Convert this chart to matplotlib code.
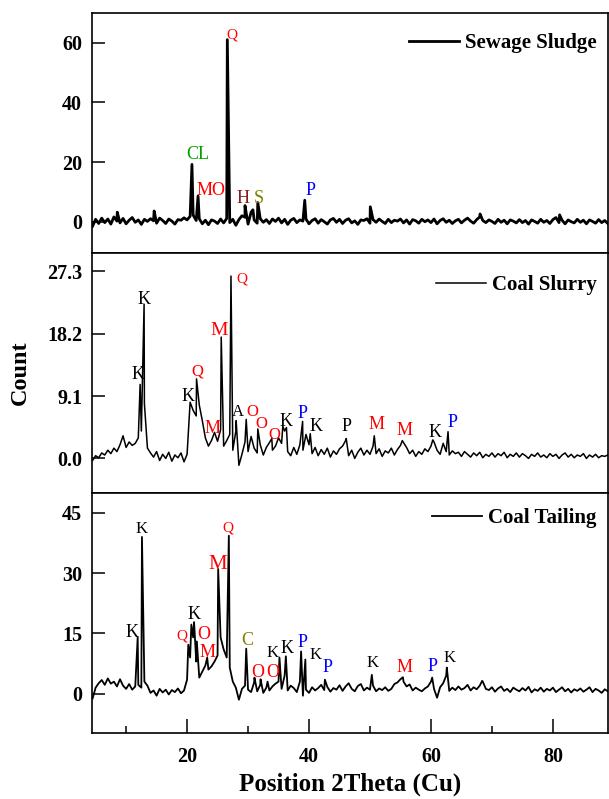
import numpy as np
import matplotlib
matplotlib.use("Agg")
import matplotlib.pyplot as plt
from matplotlib.ticker import MultipleLocator

plt.rcParams["font.family"] = ["Liberation Serif", "DejaVu Serif"]
plt.rcParams["font.weight"] = "bold"

# 2theta grid of the scans (step 0.5 deg), counts read per row of 5 deg
two_theta = np.arange(4.5, 89.01, 0.5)

sludge_counts = [
    -1.5, 0.8, -0.6, 1.2, -0.3, 0.9, -0.8, 1.6, 0.2, -0.4,
    1.1, -0.7, 0.5, 1.4, -0.2, 0.6, -0.9, 0.8, 0.1, 1.0,
    0.3, -0.5, 1.2, 0.4, -0.6, 0.9, 0.2, -0.8, 0.7, 0.5,
    1.3, 0.6, 1.8, 2.2, 0.4, 1.0, -0.7, 0.5, -1.0, 0.6,
    0.2, -0.6, 0.9, -0.4, 1.1, -0.3, 0.8, -1.2, 0.7, 2.0,
    1.5, -0.8, 3.2, 0.6, -0.5, 1.0, -0.2, 0.7, -0.6, 0.9,
    0.1, 1.2, -0.4, 0.8, -0.9, 0.5, 1.1, -0.3, 0.6, 0.2,
    0.9, -0.7, 0.4, 1.0, -0.5, 0.7, 0.0, -0.8, 0.6, 1.1,
    -0.2, 0.8, -0.6, 0.5, 1.0, -0.4, 0.3, -0.9, 0.6, 0.4,
    1.0, -0.5, 0.7, -0.2, 0.9, 0.1, -0.6, 0.8, -0.3, 0.5,
    0.2, 0.9, -0.4, 0.6, -0.8, 0.7, 0.3, -0.5, 0.8, 0.0,
    0.6, -0.3, 0.9, -0.7, 0.4, 1.0, -0.2, 0.5, -0.6, 0.3,
    0.8, -0.4, 0.5, 1.2, 0.2, -0.5, 0.7, 1.6, 0.4, -0.3,
    0.6, 0.1, -0.6, 0.8, -0.2, 0.5, -0.7, 0.6, 0.2, -0.4,
    0.7, -0.3, 0.4, -0.8, 0.6, 0.1, -0.5, 0.8, -0.2, 0.4,
    -0.6, 0.7, 1.4, -0.3, 0.5, -0.7, 0.6, 0.0, -0.4, 0.8,
    -0.2, 0.5, -0.7, 0.6, 0.1, -0.5, 0.7, -0.3, 0.4, -0.6,
]
sludge_peak_x = [8.55, 14.6, 20.8, 21.8, 26.6, 29.5, 30.8, 31.6, 39.3, 50.05, 68.05, 81.1]
sludge_peak_y = [3.2, 3.6, 19.2, 8.6, 61.0, 5.4, 4.0, 6.4, 7.2, 5.0, 2.6, 2.3]

slurry_counts = [
    -0.3, 0.4, 0.1, 0.8, 0.5, 1.2, 0.7, 1.5, 1.0, 2.0,
    3.3, 1.6, 2.4, 1.9, 2.2, 3.0, 4.0, 8.0, 1.5, 0.8,
    0.2, 1.0, -0.3, 0.6, 0.0, 0.9, -0.4, 0.5, 0.1, 0.8,
    -0.5, 0.6, 8.2, 7.0, 6.2, 7.8, 5.5, 3.0, 1.8, 2.6,
    3.8, 2.5, 4.2, 1.8, 2.6, 3.5, 1.2, 4.0, -1.0, 0.6,
    2.4, 1.0, 3.2, 1.5, 0.8, 2.0, 0.5, 1.6, 2.3, 1.2,
    1.8, 3.0, 2.2, 4.0, 1.0, 0.4, 1.6, 0.6, 2.0, 1.2,
    3.5, 2.0, 0.7, 1.6, 0.4, 1.3, 0.6, 1.5, 0.2, 1.1,
    0.6, 1.4, 1.8, 2.6, 0.4, 1.2, 0.0, 0.9, 1.5, 0.5,
    1.2, 0.6, 1.8, 0.7, 1.4, 0.3, 1.1, 0.8, 1.5, 0.5,
    1.3, 1.9, 2.3, 1.6, 0.7, 1.2, 0.3, 1.0, 0.6, 1.4,
    1.0, 1.8, 2.4, 1.2, 0.6, 2.2, 1.0, 0.5, 1.1, 0.7,
    0.9, 0.3, 1.0, 0.6, 0.2, 0.8, 0.4, 0.9, 0.1, 0.6,
    0.3, 0.8, 0.2, 0.7, 0.4, 0.9, 0.1, 0.6, 0.3, 0.8,
    0.2, 0.7, 0.4, 0.0, 0.6, 0.3, 0.8, 0.2, 0.5, 0.1,
    0.7, 0.3, 0.6, 0.0, 0.5, 0.8, 0.2, 0.6, 0.1, 0.5,
    0.3, 0.7, 0.0, 0.5, 0.2, 0.6, 0.1, 0.4, 0.3, 0.5,
]
slurry_peak_x = [12.3, 12.95, 21.55, 25.6, 27.2, 28.05, 29.7, 31.6, 33.9, 35.7,
                 36.3, 38.95, 40.2, 46.1, 50.7, 55.3, 60.3, 62.8]
slurry_peak_y = [10.8, 22.5, 11.6, 17.7, 26.6, 5.5, 5.7, 4.3, 2.9, 4.7,
                 4.5, 5.4, 3.6, 2.9, 3.3, 2.6, 2.7, 3.9]

tailing_counts = [
    -1.2, 1.5, 2.6, 3.4, 2.2, 3.8, 2.5, 3.0, 1.8, 3.6,
    2.0, 1.2, 2.4, 1.0, 1.8, 2.2, 1.5, 3.0, 2.0, 0.2,
    0.8, -0.5, 1.2, 0.3, 1.0, -0.2, 0.9, 0.4, 1.3, 0.1,
    0.8, 3.5, 9.0, 14.0, 8.0, 4.0, 5.5, 7.0, 6.0, 6.8,
    8.0, 9.5, 14.0, 11.0, 9.0, 6.5, 3.0, 1.5, -1.5, 1.2,
    2.0, 1.0, 0.4, 2.8, 0.6, 2.2, 0.2, 1.5, 0.8, 1.8,
    2.5, 3.0, 1.2, 4.5, 0.8, 2.0, 1.4, 0.4, 3.0, -0.5,
    1.0, 0.2, 1.6, 0.8, 1.4, 2.2, 0.9, 1.7, 0.5, 1.4,
    1.0, 2.1, 0.7, 1.8, 2.6, 1.2, 0.6, 1.9, 2.4, 0.8,
    1.5, 1.0, 2.0, 0.6, 1.3, 0.9, 1.6, 0.7, 1.2, 2.4,
    2.8, 3.6, 3.0, 1.8, 2.3, 0.8, 1.5, 1.0, 0.6, 1.3,
    1.8, 3.0, 1.2, -1.0, 1.6, 2.6, 4.5, 0.7, 1.5, 0.9,
    1.8, 1.0, 1.4, 2.2, 0.8, 1.6, 1.1, 2.0, 3.0, 1.2,
    0.9, 1.6, 0.5, 1.3, 1.8, 0.7, 1.2, 0.4, 1.5, 1.0,
    0.6, 1.4, 0.8, 1.7, 0.3, 1.1, 0.7, 1.5, 0.5, 1.2,
    0.8, 1.5, 0.4, 1.0, 1.6, 0.6, 1.2, 0.3, 1.1, 0.7,
    1.3, 0.5, 1.0, 1.6, 0.4, 1.2, 0.8, 0.2, 1.1, 0.6,
]
tailing_peak_x = [11.9, 12.6, 20.2, 20.7, 21.15, 21.6, 23.3, 25.1, 26.85, 29.7,
                  31.05, 32.05, 33.2, 35.15, 36.2, 38.7, 39.4, 42.6, 50.3, 55.4,
                  60.2, 62.6, 68.4]
tailing_peak_y = [14.0, 39.0, 12.2, 17.2, 17.8, 13.0, 9.0, 31.0, 39.3, 11.2,
                  4.0, 3.6, 3.0, 9.0, 9.3, 10.5, 8.5, 3.5, 4.7, 4.1,
                  4.0, 6.5, 3.2]

# phase labels: (text, 2theta, count, colour, font size)
RED, BLUE, GREEN, BROWN, OLIVE, BLACK = "#ff0000", "#0000ff", "#00a000", "#8b1a1a", "#808000", "black"
sludge_labels = [
    ("CL", 21.8, 22.5, GREEN, 13), ("MO", 23.9, 10.4, RED, 13), ("Q", 27.4, 62.4, RED, 11),
    ("H", 29.2, 7.7, BROWN, 13), ("S", 31.8, 7.7, OLIVE, 13), ("P", 40.2, 10.4, BLUE, 13),
]
slurry_labels = [
    ("K", 12.0, 12.3, BLACK, 13), ("K", 12.95, 23.2, BLACK, 13), ("K", 20.2, 9.0, BLACK, 13),
    ("Q", 21.6, 12.7, RED, 12), ("M", 24.1, 4.4, RED, 13), ("M", 25.2, 18.6, RED, 14),
    ("Q", 29.0, 26.1, RED, 11), ("A", 28.4, 6.7, BLACK, 12), ("O", 30.7, 6.7, RED, 12),
    ("O", 32.2, 5.0, RED, 12), ("O", 34.3, 3.4, RED, 12), ("K", 36.2, 5.4, BLACK, 13),
    ("P", 39.0, 6.6, BLUE, 13), ("K", 41.1, 4.6, BLACK, 13), ("P", 46.1, 4.6, BLACK, 13),
    ("M", 51.0, 4.9, RED, 13), ("M", 55.6, 4.1, RED, 13), ("K", 60.7, 3.8, BLACK, 13),
    ("P", 63.6, 5.3, BLUE, 13),
]
tailing_labels = [
    ("K", 11.0, 15.2, BLACK, 13), ("K", 12.6, 41.0, BLACK, 12), ("Q", 19.2, 14.4, RED, 11),
    ("K", 21.1, 19.7, BLACK, 13), ("O", 22.8, 14.7, RED, 13), ("M", 23.3, 10.2, RED, 13),
    ("M", 25.1, 32.1, RED, 15), ("Q", 26.7, 41.3, RED, 11), ("C", 29.8, 13.2, OLIVE, 13),
    ("O", 31.6, 5.2, RED, 13), ("O", 34.1, 5.2, RED, 13), ("K", 34.1, 10.2, BLACK, 12),
    ("K", 36.4, 11.2, BLACK, 13), ("P", 38.9, 12.7, BLUE, 13), ("K", 41.0, 9.7, BLACK, 12),
    ("P", 43.0, 6.5, BLUE, 13), ("K", 50.5, 7.7, BLACK, 12), ("M", 55.7, 6.5, RED, 13),
    ("P", 60.3, 6.7, BLUE, 13), ("K", 63.1, 9.0, BLACK, 12),
]

panels = [
    ("Sewage Sludge", sludge_counts, sludge_peak_x, sludge_peak_y, sludge_labels,
     (-10.4, 70.0), [0, 20, 40, 60], ["0", "20", "40", "60"], 2.0, 0.975),
    ("Coal Slurry", slurry_counts, slurry_peak_x, slurry_peak_y, slurry_labels,
     (-5.0, 30.0), [0, 9.1, 18.2, 27.3], ["0.0", "9.1", "18.2", "27.3"], 1.1, 0.967),
    ("Coal Tailing", tailing_counts, tailing_peak_x, tailing_peak_y, tailing_labels,
     (-9.7, 50.0), [0, 15, 30, 45], ["0", "15", "30", "45"], 1.3, 0.997),
]

fig, axes = plt.subplots(3, 1, figsize=(6.09, 7.99), dpi=100, sharex=True)
fig.subplots_adjust(left=0.151, right=0.998, top=0.984, bottom=0.083, hspace=0)

for ax, (name, counts, px, py, labels, ylim, yt, ytl, lw, leg_y) in zip(axes, panels):
    x = np.concatenate([two_theta, px])
    y = np.concatenate([counts, py])
    order = np.argsort(x)
    ax.plot(x[order], y[order], color="black", lw=lw, label=name)
    for text, lx, ly, c, fs in labels:
        ax.text(lx, ly, text, color=c, fontsize=fs, fontweight="normal",
                ha="center", va="center")
    ax.set_ylim(*ylim)
    ax.set_yticks(yt)
    ax.set_yticklabels(ytl)
    ax.tick_params(axis="y", direction="in", length=9, width=1.1, labelsize=14.5, pad=7)
    ax.tick_params(axis="x", which="both", bottom=False)
    for s in ax.spines.values():
        s.set_linewidth(1.2)
    ax.legend(loc="upper right", bbox_to_anchor=(1.007, leg_y), frameon=False,
              handlelength=2.4, handletextpad=0.3, borderaxespad=0.3,
              prop={"weight": "bold", "size": 15})

ax = axes[-1]
ax.set_xlim(4.4, 89.0)
ax.xaxis.set_major_locator(MultipleLocator(20))
ax.xaxis.set_minor_locator(MultipleLocator(10))
ax.tick_params(axis="x", which="major", bottom=True, direction="in", length=10,
               width=1.1, labelsize=14.5, pad=10)
ax.tick_params(axis="x", which="minor", bottom=True, direction="in", length=5, width=1.1)
ax.set_xlabel("Position 2Theta (Cu)", fontsize=18, fontweight="bold", labelpad=4)
fig.text(0.033, 0.533, "Count", rotation=90, fontsize=17.5, fontweight="bold",
         ha="center", va="center")

fig.savefig("out.png", dpi=100)
